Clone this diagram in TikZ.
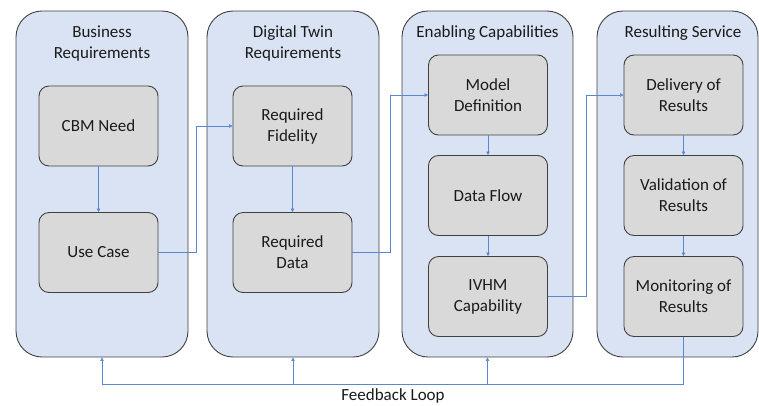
\documentclass[tikz,border=0pt]{standalone}
\usepackage{fontspec}
\setmainfont{Carlito}
\usetikzlibrary{arrows.meta}
\definecolor{colfill}{HTML}{DAE3F3}
\definecolor{boxfill}{HTML}{D9D9D9}
\definecolor{edge}{HTML}{404040}
\definecolor{conn}{HTML}{5A86D2}
\definecolor{txt}{HTML}{1A1A1A}
\tikzset{
  column/.style={draw=edge, line width=0.9pt, fill=colfill, rounded corners=26pt, minimum height=346pt, inner sep=0pt},
  stepbox/.style={draw=edge, line width=0.9pt, fill=boxfill, rounded corners=10pt, minimum width=119pt, minimum height=80pt, inner sep=0pt, align=center, text=txt, font=\fontsize{17}{21}\selectfont},
  header/.style={align=center, text=txt, font=\fontsize{17}{21}\selectfont, inner sep=0pt},
  link/.style={draw=conn, line width=0.6pt},
  arr/.style={link, -{Triangle[length=3.5pt,width=3.5pt]}}
}
\begin{document}
\begin{tikzpicture}[x=1pt,y=-1pt]
\useasboundingbox (0,0) rectangle (759,405);
% columns
\node[column, minimum width=172pt] (col1) at (102,184) {};
\node[column, minimum width=172pt] (col2) at (293,184) {};
\node[column, minimum width=171pt] (col3) at (487.5,184) {};
\node[column, minimum width=161pt] (col4) at (677.5,184) {};
% headers
\node[header] (h1) at (102,43.5) {Business\\Requirements};
\node[header] (h2) at (293,43.5) {Digital Twin\\Requirements};
\node[header] (h3) at (487.5,33) {Enabling Capabilities};
\node[header] (h4) at (683,33) {Resulting Service};
% inner boxes
\node[stepbox] (cbm) at (98.5,126) {CBM Need};
\node[stepbox] (uc) at (98.5,252.5) {Use Case};
\node[stepbox] (rf) at (292.5,126) {Required\\Fidelity};
\node[stepbox] (rd) at (292.5,252.5) {Required\\Data};
\node[stepbox] (md) at (488,95) {Model\\Definition};
\node[stepbox] (df) at (488,195.5) {Data Flow};
\node[stepbox] (ivhm) at (488,296.5) {IVHM\\Capability};
\node[stepbox] (del) at (683.5,95) {Delivery of\\Results};
\node[stepbox] (val) at (683.5,195.5) {Validation of\\Results};
\node[stepbox] (mon) at (683.5,296.5) {Monitoring of\\Results};
% connectors
\draw[arr] (cbm) -- (uc);
\draw[arr] (rf) -- (rd);
\draw[arr] (md) -- (df);
\draw[arr] (df) -- (ivhm);
\draw[arr] (del) -- (val);
\draw[arr] (val) -- (mon);
\draw[arr] (uc.east) -- ++(38,0) |- (rf.west);
\draw[arr] (rd.east) -- ++(38,0) |- (md.west);
\draw[arr] (ivhm.east) -- ++(38,0) |- (del.west);
% feedback loop
\coordinate (f1) at (102,384);
\coordinate (f2) at (293,384);
\coordinate (f3) at (487.5,384);
\coordinate (f4) at (683.5,384);
\draw[link] (mon.south) -- (f4) -- (f1);
\draw[arr] (f1) -- (col1.south);
\draw[arr] (f2) -- (col2.south);
\draw[arr] (f3) -- (col3.south);
\node[header] (fb) at (393,396) {Feedback Loop};
\end{tikzpicture}
\end{document}
